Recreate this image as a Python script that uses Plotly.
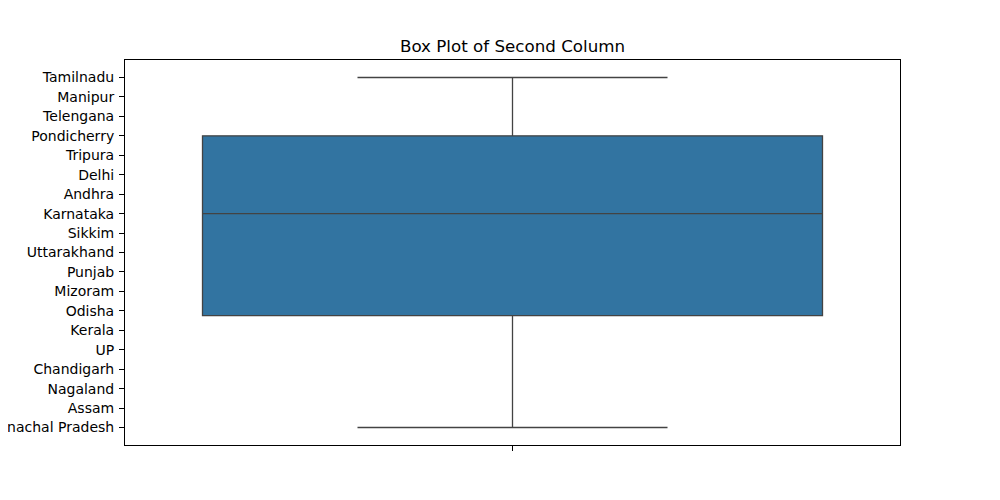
import plotly.graph_objects as go

# Categories of the second column, in the order shown on the axis (top to bottom)
categories = ["Tamilnadu", "Manipur", "Telengana", "Pondicherry", "Tripura", "Delhi",
              "Andhra", "Karnataka", "Sikkim", "Uttarakhand", "Punjab", "Mizoram",
              "Odisha", "Kerala", "UP", "Chandigarh", "Nagaland", "Assam",
              "Arunachal Pradesh"]

# Box statistics, as positions on the category axis (0 = first category)
lower_fence = [0]
q1 = [3]
median = [7]
q3 = [12.25]
upper_fence = [18]

fig = go.Figure()
fig.add_trace(go.Box(
    x=[0],
    lowerfence=lower_fence,
    q1=q1,
    median=median,
    q3=q3,
    upperfence=upper_fence,
    width=0.8,
    whiskerwidth=0.5,
    fillcolor="#3274a1",
    line=dict(color="#434343", width=1.3),
    showlegend=False,
    hoverinfo="skip",
))

n = len(categories)
fig.update_layout(
    width=1000, height=500,
    margin=dict(l=117, r=108, t=52, b=63, autoexpand=False),
    paper_bgcolor="white", plot_bgcolor="white",
    font=dict(family="DejaVu Sans", size=14, color="black"),
    title=dict(text="Box Plot of Second Column", x=0.5, xref="paper",
               y=1 - 38 / 500, yref="container", yanchor="middle", xanchor="center",
               automargin=False,
               font=dict(family="DejaVu Sans", size=16.7, color="black")),
    xaxis=dict(range=[-0.5, 0.5], tickvals=[0], ticktext=[""], ticks="outside",
               ticklen=5, tickcolor="black", showgrid=False, zeroline=False,
               showline=True, mirror=True, linecolor="black", linewidth=1,
               automargin=False),
    yaxis=dict(range=[n - 1 + 0.9, -0.9], tickvals=list(range(n)), ticktext=categories,
               ticks="outside", ticklen=5, tickcolor="black", showgrid=False,
               zeroline=False, showline=True, mirror=True, linecolor="black",
               linewidth=1, ticklabelstandoff=2, automargin=False,
               tickfont=dict(family="DejaVu Sans", size=14, color="black")),
)

fig.write_html("out.html")
